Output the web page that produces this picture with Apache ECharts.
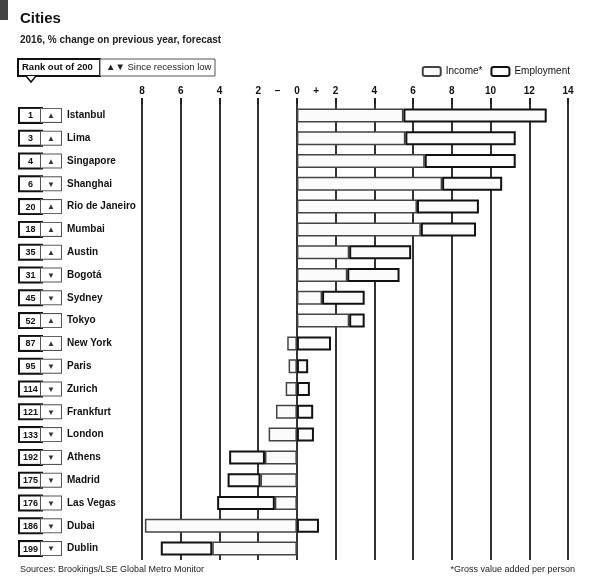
<!DOCTYPE html>
<html><head><meta charset="utf-8">
<script src="https://cdn.jsdelivr.net/npm/echarts@6/dist/echarts.min.js"></script>
<style>html,body{margin:0;padding:0;background:#fff}#c{width:595px;height:583px}</style>
</head><body><div id="c"></div>
<script>
const cities = ['Istanbul','Lima','Singapore','Shanghai','Rio de Janeiro','Mumbai','Austin','Bogotá','Sydney','Tokyo','New York','Paris','Zurich','Frankfurt','London','Athens','Madrid','Las Vegas','Dubai','Dublin'];
const ranks = [1,3,4,6,20,18,35,31,45,52,87,95,114,121,133,192,175,176,186,199];
const trend = ['up','up','up','down','up','up','up','down','down','up','up','down','down','down','down','down','down','down','down','down'];
const income = [5.5,5.6,6.6,7.5,6.2,6.4,2.7,2.6,1.3,2.7,-0.5,-0.43,-0.58,-1.08,-1.46,-1.65,-1.88,-1.14,-7.85,-4.37];
const employment = [7.4,5.7,4.7,3.1,3.2,2.85,3.2,2.7,2.2,0.8,1.76,0.58,0.67,0.84,0.88,-1.85,-1.7,-2.98,1.14,-2.66];
const tickLabels = {'-8':'8','-6':'6','-4':'4','-2':'2','0':'0','2':'2','4':'4','6':'6','8':'8','10':'10','12':'12','14':'14'};
const signLabels = {'-1':'−','1':'+'};

const FONT = '"Liberation Sans Narrow","Liberation Sans",sans-serif';
const chart = echarts.init(document.getElementById('c'));
const labelMap = {};
cities.forEach((c,i)=>{labelMap[c]=i;});

chart.setOption({
  animation:false,
  textStyle:{fontFamily:FONT},
  graphic:[
    {type:'rect',shape:{x:0,y:0,width:8,height:20},style:{fill:'#444'}},
    {type:'text',left:20,top:11,style:{text:'Cities',font:'bold 15px '+FONT,fill:'#111'}},
    {type:'text',left:20,top:35,style:{text:'2016, % change on previous year, forecast',font:'bold 10px '+FONT,fill:'#222'}},
    {type:'rect',shape:{x:18,y:59,width:82,height:17},style:{fill:'#fff',stroke:'#111',lineWidth:2}},
    {type:'polyline',shape:{points:[[26,76],[31,82],[36,76]]},style:{fill:'#fff',stroke:'#111',lineWidth:1.5}},
    {type:'text',left:22,top:62,style:{text:'Rank out of 200',font:'bold 9.5px '+FONT,fill:'#111'}},
    {type:'rect',shape:{x:100,y:59,width:115,height:17},style:{fill:'#fff',stroke:'#555',lineWidth:1}},
    {type:'text',left:106,top:62,style:{text:'▲▼ Since recession low',font:'9.5px '+FONT,fill:'#222'}},
    {type:'text',left:20,top:565,style:{text:'Sources: Brookings/LSE Global Metro Monitor',font:'9px '+FONT,fill:'#222'}},
    {type:'text',right:20,top:565,style:{text:'*Gross value added per person',font:'9px '+FONT,fill:'#222',align:'right'}}
  ],
  legend:{
    right:20, top:61, itemWidth:18, itemHeight:9, itemGap:8,
    textStyle:{fontSize:10,fontFamily:FONT,color:'#111'},
    data:['Income*','Employment']
  },
  grid:{left:142,right:27,top:104,bottom:23},
  xAxis:[{
    type:'value',position:'top',min:-8,max:14,interval:2,
    axisLine:{show:false},
    axisTick:{show:true,length:6,lineStyle:{color:'#222',width:2}},
    axisLabel:{margin:8,fontSize:10,fontWeight:'bold',color:'#111',fontFamily:FONT,
      formatter:v=>tickLabels[String(v)]||''},
    splitLine:{show:true,lineStyle:{color:'#333',width:2}}
  },{
    type:'value',position:'top',min:-8,max:14,interval:1,
    axisLine:{show:false},axisTick:{show:false},splitLine:{show:false},
    axisLabel:{margin:8,fontSize:10,fontWeight:'bold',color:'#111',fontFamily:FONT,
      formatter:v=>signLabels[String(v)]||''}
  }],
  yAxis:{
    type:'category',inverse:true,data:cities,
    axisLine:{show:false},axisTick:{show:false},
    axisLabel:{
      align:'left',margin:122,
      formatter:(v)=>{const i=labelMap[v];return '{r|'+ranks[i]+'}{a|'+(trend[i]==='up'?'▲':'▼')+'}{c|'+v+'}';},
      rich:{
        r:{width:19,height:12,align:'center',fontSize:9,fontWeight:'bold',color:'#111',borderColor:'#111',borderWidth:2,backgroundColor:'#fff',padding:[1,1,0,1],fontFamily:FONT},
        a:{width:18,height:12,align:'center',fontSize:8,color:'#333',borderColor:'#555',borderWidth:1,backgroundColor:'#fff',padding:[1,1,0,1]},
        c:{fontSize:10,fontWeight:'bold',color:'#111',padding:[0,0,0,6],fontFamily:FONT}
      }
    }
  },
  series:[
    {name:'Income*',type:'bar',stack:'t',barWidth:14,data:income,
      itemStyle:{color:'#fbfbfb',borderColor:'#444',borderWidth:1.5}},
    {name:'Employment',type:'bar',stack:'t',barWidth:14,data:employment,
      itemStyle:{color:'#fbfbfb',borderColor:'#111',borderWidth:2}}
  ]
});
</script></body></html>
